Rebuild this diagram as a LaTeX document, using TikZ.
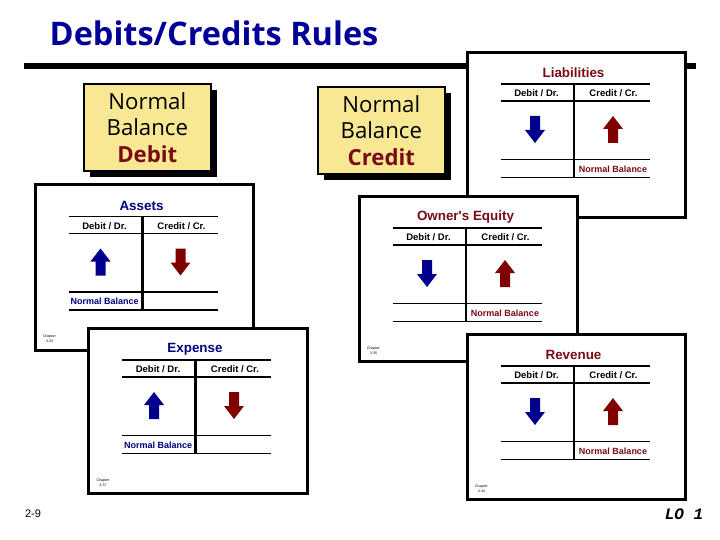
\documentclass[tikz,border=0pt]{standalone}
\usepackage{fontspec}
\setmainfont{Open Sans}
\newfontfamily\arialf{Liberation Sans}
\newfontfamily\monof{Liberation Mono}
\definecolor{titleb}{RGB}{0,0,153}
\definecolor{navyt}{RGB}{0,0,128}
\definecolor{maroont}{RGB}{122,10,20}
\definecolor{bluea}{RGB}{0,0,140}
\definecolor{reda}{RGB}{128,0,0}
\definecolor{cardy}{RGB}{248,232,148}
\tikzset{
  panel/.style={draw=black,line width=3pt,fill=white},
  rulel/.style={draw=black,line width=1.6pt},
  cardbox/.style={draw=black,line width=1.8pt,fill=cardy},
  cardshadow/.style={fill=black},
  headt/.style={font=\arialf\bfseries\fontsize{9.5}{9.5}\selectfont,inner sep=0pt,text=black},
  titlet/.style={font=\arialf\bfseries\fontsize{13.4}{13.4}\selectfont,inner sep=0pt},
  nbt/.style={font=\arialf\bfseries\fontsize{9}{9}\selectfont,inner sep=0pt},
  chapt/.style={font=\arialf\fontsize{3.6}{5}\selectfont,inner sep=0pt,align=center},
  cardt/.style={font=\fontsize{22.2}{26.5}\selectfont,align=center,inner sep=0pt},
}
\newcommand{\uparr}[3]{\fill[#3] (#1-5,#2+27) -- (#1-5,#2+13) -- (#1-10,#2+13) -- (#1,#2) -- (#1+10,#2+13) -- (#1+5,#2+13) -- (#1+5,#2+27) -- cycle;}
\newcommand{\downarr}[3]{\fill[#3] (#1-5,#2) -- (#1-5,#2+14) -- (#1-10,#2+14) -- (#1,#2+27) -- (#1+10,#2+14) -- (#1+5,#2+14) -- (#1+5,#2) -- cycle;}
\newcommand{\panelcard}[8]{%
\begin{scope}[shift={(#1,#2)}]
  \draw[panel] (0,0) rectangle (218.7,165);
  \node[titlet,text=#4] (#8t) at (106.5,20.5) {#3};
  \draw[rulel] (33.5,31.5) -- (182.5,31.5);
  \draw[rulel] (33.5,48.5) -- (182.5,48.5);
  \draw[rulel] (33.5,107) -- (182.5,107);
  \draw[rulel] (33.5,125) -- (182.5,125);
  \draw[draw=black,line width=#5] (107,31.5) -- (107,125);
  \node[headt] (#8d) at (69.5,41) {Debit / Dr.};
  \node[headt] (#8c) at (146.5,41) {Credit / Cr.};
  \ifnum#6=1
    \uparr{65.5}{63.5}{bluea}
    \downarr{145.5}{63.5}{reda}
    \node[nbt,text=navyt] (#8n) at (69.7,116.5) {Normal Balance};
  \else
    \downarr{68}{63.5}{bluea}
    \uparr{146}{63.5}{reda}
    \node[nbt,text=maroont] (#8n) at (146,116.5) {Normal Balance};
  \fi
  \node[chapt] (#8h) at (14.5,154) {Chapter\\#7};
\end{scope}}
\newcommand{\nbcard}[4]{%
  \fill[cardshadow] (#1+6.5,#2+6.5) rectangle (#1+127+6,#2+87+6);
  \draw[cardbox] (#1,#2) rectangle (#1+127,#2+87);
  \node[cardt] (#4) at (#1+63.5,#2+43.5) {Normal\\Balance\\\textcolor{maroont}{\bfseries #3}};}
\begin{document}
\begin{tikzpicture}[x=1pt,y=-1pt]
\useasboundingbox (0,0) rectangle (720,540);
\fill[white] (0,0) rectangle (720,540);
\node[font=\bfseries\fontsize{32.5}{32.5}\selectfont,text=titleb,anchor=base west,inner sep=0pt] (title) at (49.5,45.5) {Debits/Credits Rules};
\fill[black] (24,63.3) rectangle (696,68.7);
\nbcard{83.8}{83.8}{Debit}{cd}
\nbcard{317.8}{87}{Credit}{cc}
\panelcard{467}{52.5}{Liabilities}{maroont}{1.3pt}{0}{3-32}{li}
\panelcard{35}{185}{Assets}{navyt}{3pt}{1}{3-33}{as}
\panelcard{359}{196.5}{Owner's Equity}{maroont}{1.3pt}{0}{3-35}{ow}
\panelcard{88.5}{328.5}{Expense}{navyt}{3pt}{1}{3-37}{ex}
\panelcard{467}{334.5}{Revenue}{maroont}{1.3pt}{0}{3-34}{re}
\node[font=\arialf\fontsize{11}{11}\selectfont,inner sep=0pt] (pg) at (33,514) {2-9};
\node[font=\monof\bfseries\itshape\fontsize{16}{16}\selectfont,inner sep=0pt] (lo) at (684,514) {LO 1};
\end{tikzpicture}
\end{document}
